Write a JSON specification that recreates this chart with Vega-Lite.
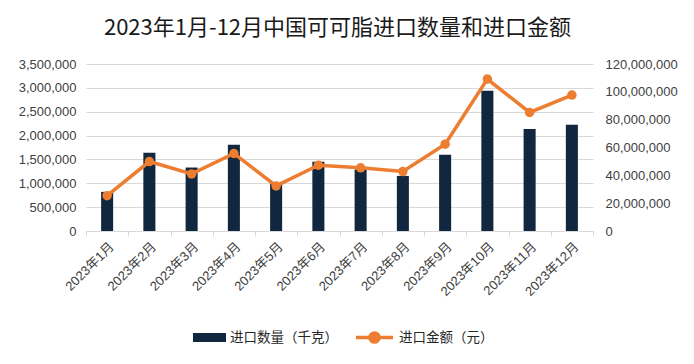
{
  "$schema": "https://vega.github.io/schema/vega-lite/v6.json",
  "autosize": {"type": "none"},
  "width": 507,
  "height": 167,
  "padding": {"left": 86, "top": 64, "right": 101, "bottom": 133},
  "background": "#ffffff",
  "title": {
    "text": "2023年1月-12月中国可可脂进口数量和进口金额",
    "font": "Noto Sans CJK SC",
    "fontSize": 22,
    "fontWeight": "normal",
    "color": "#1a1a1a",
    "anchor": "middle",
    "offset": 18,
    "dx": -2
  },
  "config": {
    "view": {"stroke": null},
    "axis": {"labelFont": "Liberation Sans, Noto Sans CJK SC", "labelFontSize": 13, "labelColor": "#404040"},
    "legend": {"labelFont": "Noto Sans CJK SC", "labelFontSize": 13.5, "labelColor": "#262626"}
  },
  "data": {
    "values": [
      {"month": "2023年1月", "qty": 820000, "amount": 25400000},
      {"month": "2023年2月", "qty": 1640000, "amount": 49900000},
      {"month": "2023年3月", "qty": 1330000, "amount": 41000000},
      {"month": "2023年4月", "qty": 1806000, "amount": 55700000},
      {"month": "2023年5月", "qty": 1000000, "amount": 32400000},
      {"month": "2023年6月", "qty": 1449000, "amount": 47300000},
      {"month": "2023年7月", "qty": 1290000, "amount": 45400000},
      {"month": "2023年8月", "qty": 1155000, "amount": 42700000},
      {"month": "2023年9月", "qty": 1596000, "amount": 62400000},
      {"month": "2023年10月", "qty": 2940000, "amount": 109200000},
      {"month": "2023年11月", "qty": 2140000, "amount": 85200000},
      {"month": "2023年12月", "qty": 2226000, "amount": 97700000}
    ]
  },
  "encoding": {
    "x": {
      "field": "month",
      "type": "nominal",
      "sort": null,
      "scale": {"paddingInner": 0, "paddingOuter": 0},
      "axis": {
        "title": null,
        "labelAngle": -45,
        "tickBand": "extent",
        "tickSize": 5,
        "tickColor": "#D9D9D9",
        "domainColor": "#D9D9D9",
        "labelPadding": 4,
        "labelOverlap": false
      }
    }
  },
  "layer": [
    {
      "mark": {"type": "bar", "width": {"band": 0.285}},
      "encoding": {
        "y": {
          "field": "qty",
          "type": "quantitative",
          "scale": {"domain": [0, 3500000], "nice": false},
          "axis": {
            "title": null,
            "values": [0, 500000, 1000000, 1500000, 2000000, 2500000, 3000000, 3500000],
            "format": ",d",
            "domain": false,
            "ticks": false,
            "labelPadding": 10,
            "labelOverlap": false,
            "grid": true,
            "gridColor": "#D9D9D9"
          }
        },
        "fill": {
          "datum": "进口数量（千克）",
          "scale": {"range": ["#10273F"]},
          "legend": {
            "orient": "none",
            "legendX": 107,
            "legendY": 257,
            "symbolType": "M-1,-0.27H1V0.27H-1Z",
            "symbolSize": 1089,
            "symbolStrokeWidth": 0,
            "title": null
          }
        }
      }
    },
    {
      "layer": [
        {
          "mark": {"type": "line", "strokeWidth": 3.5},
          "encoding": {
            "y": {
              "field": "amount",
              "type": "quantitative",
              "scale": {"domain": [0, 120000000], "nice": false},
              "axis": {
                "title": null,
                "orient": "right",
                "values": [0, 20000000, 40000000, 60000000, 80000000, 100000000, 120000000],
                "format": ",d",
                "domain": false,
                "ticks": false,
                "grid": false,
                "labelOverlap": false,
                "labelPadding": 12
              }
            },
            "stroke": {
              "datum": "进口金额（元）",
              "scale": {"range": ["#ED7D31"]},
              "legend": {
                "orient": "none",
                "legendX": 268,
                "legendY": 253,
                "symbolType": "M-1,0H1M-0.25,0A0.25,0.25 0 1,1 0.25,0A0.25,0.25 0 1,1 -0.25,0Z",
                "symbolSize": 1369,
                "symbolStrokeWidth": 3.3,
                "symbolFillColor": "#ED7D31",
                "title": null
              }
            }
          }
        },
        {
          "mark": {"type": "point", "filled": true, "size": 90, "color": "#ED7D31", "opacity": 1},
          "encoding": {
            "y": {
              "field": "amount",
              "type": "quantitative",
              "scale": {"domain": [0, 120000000], "nice": false},
              "axis": {
                "title": null,
                "orient": "right",
                "values": [0, 20000000, 40000000, 60000000, 80000000, 100000000, 120000000],
                "format": ",d",
                "domain": false,
                "ticks": false,
                "grid": false,
                "labelOverlap": false,
                "labelPadding": 12
              }
            }
          }
        }
      ]
    }
  ],
  "resolve": {"scale": {"y": "independent"}}
}
